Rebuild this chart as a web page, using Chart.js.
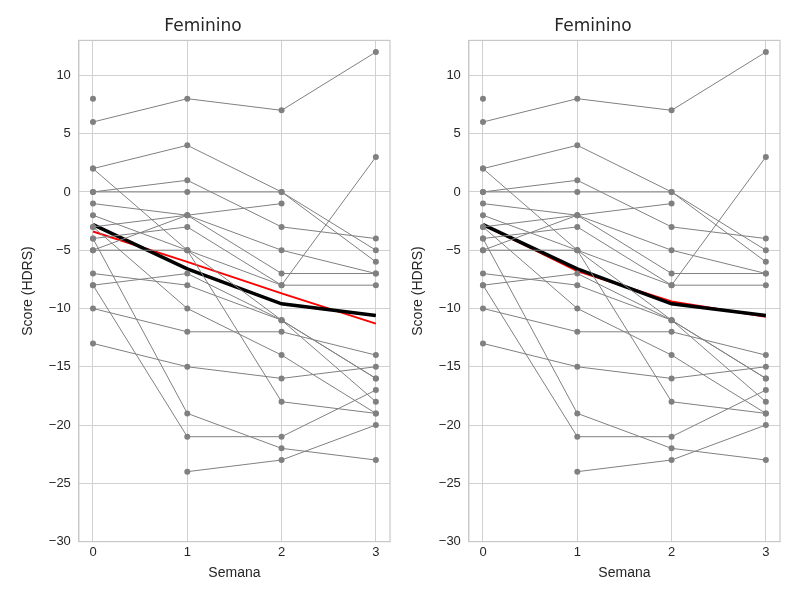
<!DOCTYPE html>
<html><head><meta charset="utf-8">
<script src="https://cdn.jsdelivr.net/npm/chart.js@4"></script>
<style>
body{margin:0;background:#fff;font-family:"DejaVu Sans",sans-serif}
.wrap{position:absolute;top:0;width:400px;height:600px}
</style></head><body>
<div class="wrap" style="left:0"><canvas id="c1" width="400" height="600"></canvas></div>
<div class="wrap" style="left:390px"><canvas id="c2" width="400" height="600"></canvas></div>
<script>
const weeks = [0, 1, 2, 3];
const subjects = [
  [8, null, null, null],
  [6, 8, 7, 12],
  [2, 4, 0, -6],
  [2, -5, -11, -16],
  [0, 1, -3, -4],
  [0, 0, 0, -5],
  [-1, -2, -5, -7],
  [-2, -5, -8, -8],
  [-3, -2, -1, null],
  [-4, -3, -8, 3],
  [-5, -2, -7, -7],
  [-7, -8, -11, -16],
  [-8, -7, -11, -18],
  [-8, -21, -21, -17],
  [-4, -19, -22, -23],
  [-10, -12, -12, -14],
  [-13, -15, -16, -15],
  [-3, -10, -14, -19],
  [null, -24, -23, -20],
  [-5, -5, -18, -19]
];
const meanLine = [-2.8, -6.6, -9.6, -10.6];
const fitLeft = [-3.4, -6.0, -8.7, -11.3];
const fitRight = [-2.8, -6.8, -9.4, -10.7];
const yTicks = [10, 5, 0, -5, -10, -15, -20, -25, -30];

// full frame around the plot area, like the reference
const frame = {
  id: 'frame',
  afterDraw(chart) {
    const a = chart.chartArea, ctx = chart.ctx;
    ctx.save();
    ctx.strokeStyle = '#c8c8c8';
    ctx.lineWidth = 1.2;
    ctx.strokeRect(a.left, a.top, a.right - a.left, a.bottom - a.top);
    ctx.restore();
  }
};

function makeChart(id, fit) {
  const sets = subjects.map(s => ({
    data: weeks.map((w, i) => ({x: w, y: s[i]})),
    borderColor: '#808080', backgroundColor: '#808080',
    borderWidth: 1, pointRadius: 3, pointBorderWidth: 0, spanGaps: false
  }));
  sets.push({data: weeks.map((w, i) => ({x: w, y: meanLine[i]})), borderColor: '#000', borderWidth: 3.5, pointRadius: 0});
  sets.push({data: weeks.map((w, i) => ({x: w, y: fit[i]})), borderColor: '#ff0000', borderWidth: 2, pointRadius: 0});
  new Chart(document.getElementById(id), {
    type: 'line',
    data: {datasets: sets},
    options: {
      responsive: false, animation: false,
      layout: {padding: {top: 10, right: 10, bottom: 14, left: 16}},
      plugins: {legend: {display: false}, tooltip: {enabled: false},
        title: {display: true, text: 'Feminino', color: '#262626', font: {size: 17, family: 'DejaVu Sans', weight: 'normal'}, padding: {top: 6, bottom: 4}}},
      scales: {
        x: {type: 'linear', min: -0.15, max: 3.15,
          afterBuildTicks: a => { a.ticks = weeks.map(v => ({value: v})); },
          ticks: {color: '#262626', font: {size: 13}},
          grid: {color: '#d0d0d0', drawTicks: false},
          border: {color: '#c8c8c8'},
          title: {display: true, text: 'Semana', color: '#262626', font: {size: 14}, padding: {top: 2}}},
        y: {min: -30, max: 13,
          afterBuildTicks: a => { a.ticks = yTicks.map(v => ({value: v})); },
          ticks: {color: '#262626', font: {size: 13}, callback: v => String(v).replace('-', '\u2212'), padding: 8},
          grid: {color: '#d0d0d0', drawTicks: false},
          border: {color: '#c8c8c8'},
          title: {display: true, text: 'Score (HDRS)', color: '#262626', font: {size: 14}}}
      }
    },
    plugins: [frame]
  });
}
makeChart('c1', fitLeft);
makeChart('c2', fitRight);
</script></body></html>
